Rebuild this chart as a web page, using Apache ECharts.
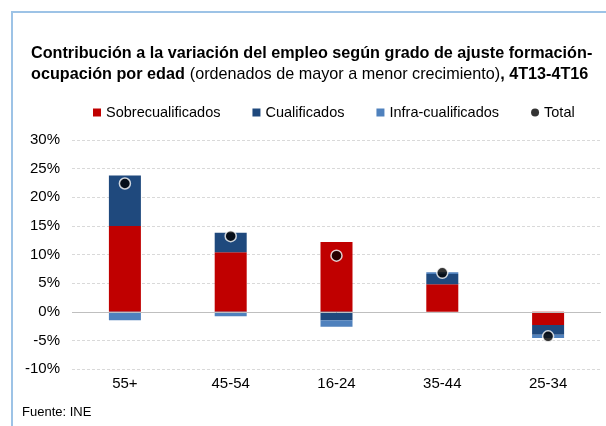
<!DOCTYPE html>
<html>
<head>
<meta charset="utf-8">
<script src="https://cdn.jsdelivr.net/npm/echarts@6/dist/echarts.min.js"></script>
<style>
  html, body { margin: 0; padding: 0; background: #fff; }
  #chart { width: 606px; height: 426px; }
</style>
</head>
<body>
<div id="chart"></div>
<script>
// grupos de edad, ordenados de mayor a menor crecimiento
let edades = ['55+', '45-54', '16-24', '35-44', '25-34'];
let sobrecualificados = [15.0, 10.4, 12.2, 4.8, -2.3];
let cualificados = [8.8, 3.4, -1.5, 1.8, -1.7];
let infraCualificados = [-1.5, -0.8, -1.1, 0.3, -0.6];
let total = [22.4, 13.2, 9.8, 6.8, -4.3];

let chart = echarts.init(document.getElementById('chart'));
let fuente = '"Liberation Sans", Arial, sans-serif';

let option = {
    textStyle: { fontFamily: fuente },
    title: {
        left: 26,
        top: 38,
        text: '{b|Contribución a la variación del empleo según grado de ajuste formación-}\n' +
              '{b|ocupación por edad} {n|(ordenados de mayor a menor crecimiento)}{b|, 4T13-4T16}',
        textStyle: {
            rich: {
                b: { fontFamily: fuente, fontSize: 16.2, fontWeight: 'bold', color: '#000', lineHeight: 21 },
                n: { fontFamily: fuente, fontSize: 16.2, fontWeight: 'normal', color: '#000', lineHeight: 21 }
            }
        }
    },
    legend: {
        top: 100,
        left: 88,
        itemGap: 32,
        itemWidth: 8,
        itemHeight: 8,
        textStyle: { fontSize: 14.5, color: '#000', fontFamily: fuente },
        data: [
            { name: 'Sobrecualificados', icon: 'rect' },
            { name: 'Cualificados', icon: 'rect' },
            { name: 'Infra-cualificados', icon: 'rect' },
            { name: 'Total', icon: 'circle', itemStyle: { borderWidth: 0 } }
        ]
    },
    grid: { left: 72, right: 5, top: 140, bottom: 57 },
    xAxis: {
        type: 'category',
        data: edades,
        axisLine: { show: false, onZero: false },
        axisTick: { show: false },
        axisLabel: { fontSize: 15, color: '#000', margin: 7 }
    },
    yAxis: {
        type: 'value',
        min: -10,
        max: 30,
        interval: 5,
        axisLine: { show: false },
        axisTick: { show: false },
        axisLabel: { formatter: '{value}%', fontSize: 15, color: '#000', margin: 12 },
        splitLine: { lineStyle: { color: '#D9D9D9', type: [3, 2] } }
    },
    graphic: [
        {
            type: 'rect',
            shape: { x: 12, y: 12, width: 700, height: 500 },
            style: { fill: 'none', stroke: '#9DC3E6', lineWidth: 2 }
        },
        {
            type: 'text',
            left: 22,
            top: 406,
            style: { text: 'Fuente: INE', fontSize: 13, fill: '#000', fontFamily: fuente }
        }
    ],
    series: [
        {
            name: 'Sobrecualificados',
            type: 'bar',
            stack: 'edad',
            barWidth: 32,
            data: sobrecualificados,
            itemStyle: { color: '#C00000' },
            markLine: {
                silent: true,
                symbol: 'none',
                label: { show: false },
                lineStyle: { color: '#BFBFBF', type: 'solid', width: 1 },
                data: [{ yAxis: 0 }]
            }
        },
        {
            name: 'Cualificados',
            type: 'bar',
            stack: 'edad',
            barWidth: 32,
            data: cualificados,
            itemStyle: { color: '#1F497D' }
        },
        {
            name: 'Infra-cualificados',
            type: 'bar',
            stack: 'edad',
            barWidth: 32,
            data: infraCualificados,
            itemStyle: { color: '#4F81BD' }
        },
        {
            name: 'Total',
            type: 'scatter',
            symbol: 'circle',
            symbolSize: 11,
            data: total,
            itemStyle: { color: '#000', borderColor: '#fff', borderWidth: 1.5 },
            z: 5
        }
    ]
};
chart.setOption(option);
window.addEventListener('resize', function () { chart.resize(); });
</script>
</body>
</html>
